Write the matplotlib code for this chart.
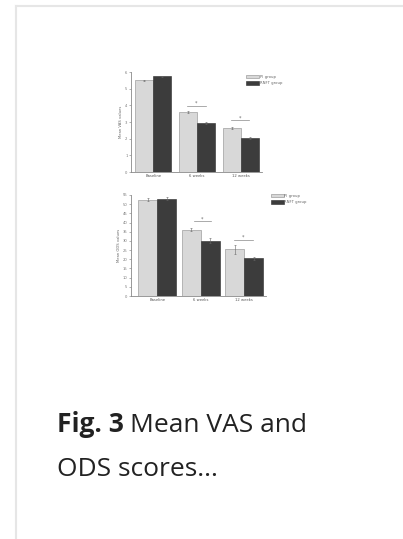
import matplotlib
matplotlib.use("Agg")
import matplotlib.pyplot as plt
from matplotlib.lines import Line2D
import numpy as np

categories = ["Baseline", "6 weeks", "12 weeks"]
groups = ["PI group", "RNFT group"]

vas_g1 = [5.50, 3.62, 2.66]
vas_g2 = [5.75, 2.95, 2.03]
vas_g1_err = [0.05, 0.06, 0.07]
vas_g2_err = [0.04, 0.07, 0.06]

ods_g1 = [52.3, 36.2, 25.5]
ods_g2 = [53.0, 30.1, 20.6]
ods_g1_err = [0.8, 1.0, 2.5]
ods_g2_err = [0.8, 1.5, 0.8]

vas_ticks = [0, 1, 2, 3, 4, 5, 6]
ods_ticks = list(range(0, 60, 5))

W, H = 403, 539
fig = plt.figure(figsize=(W / 100, H / 100), dpi=100)
fig.patch.set_facecolor("white")

# card border lines
fig.add_artist(Line2D([16 / W, 1.0], [1 - 6 / H, 1 - 6 / H], color="#e6e6e6", lw=1.5))
fig.add_artist(Line2D([16 / W, 16 / W], [0, 1 - 6 / H], color="#e6e6e6", lw=1.5))

light = "#d8d8d8"
dark = "#3c3c3c"
edge = "#8a8a8a"
fs = 2.7


def panel(rect, g1, g2, e1, e2, ticks, ylabel, xlim, width, sig, legend_pos):
    ax = fig.add_axes(rect)
    x = np.arange(len(categories))
    ax.bar(x - width / 2, g1, width, color=light, edgecolor=edge, linewidth=0.4,
           yerr=e1, error_kw=dict(ecolor="#666666", elinewidth=0.4, capsize=1.0, capthick=0.4),
           label=groups[0])
    ax.bar(x + width / 2, g2, width, color=dark, edgecolor="#2a2a2a", linewidth=0.4,
           yerr=e2, error_kw=dict(ecolor="#666666", elinewidth=0.4, capsize=1.0, capthick=0.4),
           label=groups[1])
    ax.set_xlim(*xlim)
    ax.set_ylim(ticks[0], ticks[-1])
    ax.set_yticks(ticks)
    ax.set_yticklabels([str(t) for t in ticks], fontsize=fs, color="#555555")
    ax.set_xticks(x)
    ax.set_xticklabels(categories, fontsize=fs, color="#555555")
    ax.tick_params(axis="y", length=1.5, width=0.4, pad=1, colors="#777777")
    ax.tick_params(axis="x", length=0, pad=1.5)
    for s in ["top", "right"]:
        ax.spines[s].set_visible(False)
    for s in ["left", "bottom"]:
        ax.spines[s].set_linewidth(0.6)
        ax.spines[s].set_color("#888888")
    ax.set_ylabel(ylabel, fontsize=fs, color="#666666", labelpad=1.5)
    for (xa, xb, yv) in sig:
        ax.plot([xa, xb], [yv, yv], color="#888888", lw=0.5, clip_on=False)
        ax.text((xa + xb) / 2, yv, "*", fontsize=3.5, color="#666666",
                ha="center", va="bottom")
    ax.legend(loc="upper left", bbox_to_anchor=legend_pos, bbox_transform=fig.transFigure,
              fontsize=fs, frameon=False, handlelength=3.4, handleheight=0.9,
              labelspacing=0.6, handletextpad=0.2, borderaxespad=0, borderpad=0,
              labelcolor="#666666")
    return ax


panel([131 / W, 1 - 172 / H, (262 - 131) / W, (172 - 72) / H],
      vas_g1, vas_g2, vas_g1_err, vas_g2_err, vas_ticks, "Mean VAS values",
      (-0.51, 2.49), 0.41,
      [(0.77, 1.21, 3.96), (1.79, 2.19, 3.10)],
      (246 / W, 1 - 75 / H))

panel([131 / W, 1 - 296 / H, (266 - 131) / W, (296 - 195) / H],
      ods_g1, ods_g2, ods_g1_err, ods_g2_err, ods_ticks, "Mean ODS values",
      (-0.6, 2.5), 0.44,
      [(0.84, 1.23, 40.8), (1.77, 2.2, 30.5)],
      (271 / W, 1 - 194 / H))

cap_font = ["Open Sans", "DejaVu Sans"]
cap_fs = 19
t1 = fig.text(57 / W, 1 - 432 / H, "Fig. 3", fontsize=cap_fs, fontweight="bold",
              family=cap_font, color="#222222", va="baseline")
fig.canvas.draw()
r = fig.canvas.get_renderer()
bb = t1.get_window_extent(renderer=r)
fig.text((bb.x1 + 6) / W, 1 - 432 / H, "Mean VAS and", fontsize=cap_fs,
         family=cap_font, color="#222222", va="baseline")
fig.text(57 / W, 1 - 476 / H, "ODS scores...", fontsize=cap_fs,
         family=cap_font, color="#222222", va="baseline")

fig.savefig("out.png", dpi=100, facecolor="white")
